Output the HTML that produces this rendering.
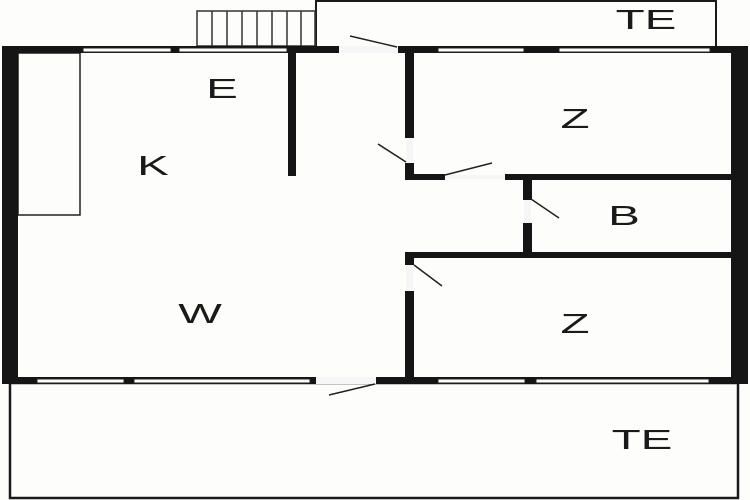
<!DOCTYPE html>
<html><head><style>
html,body{margin:0;padding:0;background:#fff;width:750px;height:500px;overflow:hidden}
text{font-family:"Liberation Sans",sans-serif;font-size:28px;fill:#1a1a1a;text-anchor:middle}
</style></head><body>
<svg width="750" height="500" viewBox="0 0 750 500" xmlns="http://www.w3.org/2000/svg">
<rect width="750" height="500" fill="#fdfdfc"/>
<rect x="316" y="1" width="400" height="46" fill="#fdfdfc" stroke="#1a1a1a" stroke-width="2"/>
<g stroke="#333" stroke-width="1.5" fill="none">
<rect x="197" y="11" width="118" height="35"/>
<line x1="212" y1="11" x2="212" y2="46"/><line x1="227" y1="11" x2="227" y2="46"/><line x1="242" y1="11" x2="242" y2="46"/><line x1="257" y1="11" x2="257" y2="46"/><line x1="272" y1="11" x2="272" y2="46"/><line x1="287" y1="11" x2="287" y2="46"/><line x1="301" y1="11" x2="301" y2="46"/>
</g>
<rect x="10" y="383" width="728" height="115" fill="#fdfdfc" stroke="#1a1a1a" stroke-width="2.5"/>
<rect x="18" y="53" width="714" height="325" fill="#fdfdfc"/>
<rect x="18" y="53" width="62" height="162" fill="none" stroke="#222" stroke-width="1.5"/>
<g fill="#151515">
<rect x="2" y="46" width="16" height="338"/>
<rect x="731" y="46" width="17" height="338"/>
<rect x="2" y="46" width="746" height="7"/>
<rect x="2" y="377" width="746" height="7"/>
<rect x="288" y="46" width="8" height="130"/>
<rect x="405" y="46" width="9" height="92"/>
<rect x="405" y="163" width="9" height="17"/>
<rect x="405" y="174" width="40" height="6"/>
<rect x="505" y="174" width="227" height="6"/>
<rect x="523" y="178" width="9" height="22"/>
<rect x="523" y="223" width="9" height="33"/>
<rect x="405" y="252" width="327" height="6"/>
<rect x="405" y="252" width="9" height="13"/>
<rect x="405" y="291" width="9" height="88"/>
</g>
<g fill="#fdfdfc" stroke="#222" stroke-width="1">
<rect x="83" y="48" width="88" height="4"/>
<rect x="179" y="48" width="108" height="4"/>
<rect x="438" y="48" width="86" height="4"/>
<rect x="559" y="48" width="151" height="4"/>
<rect x="37" y="379" width="87" height="4"/>
<rect x="134" y="379" width="176" height="4"/>
<rect x="438" y="379" width="87" height="4"/>
<rect x="536" y="379" width="173" height="4"/>
</g>
<g fill="#f6f6f6">
<rect x="339" y="46" width="59" height="7"/>
<rect x="316" y="377" width="60" height="7"/>
<rect x="406" y="138" width="7" height="25"/>
<rect x="445" y="175" width="60" height="4"/>
<rect x="524" y="200" width="7" height="23"/>
<rect x="406" y="265" width="7" height="26"/>
</g>
<g stroke="#222" stroke-width="1.5">
<line x1="350" y1="36" x2="397" y2="47"/>
<line x1="378" y1="144" x2="406" y2="162"/>
<line x1="445" y1="175" x2="492" y2="163"/>
<line x1="531" y1="199" x2="559" y2="218"/>
<line x1="414" y1="265" x2="442" y2="286"/>
<line x1="329" y1="395" x2="375" y2="384"/>
</g>
<text transform="translate(222,98) scale(1.7,1)">E</text>
<text transform="translate(153,175) scale(1.7,1)">K</text>
<text transform="translate(200,323) scale(1.65,1)">W</text>
<text transform="translate(575,128) scale(1.7,1)">Z</text>
<text transform="translate(624,225) scale(1.7,1)">B</text>
<text transform="translate(575,333) scale(1.7,1)">Z</text>
<text transform="translate(646,29) scale(1.7,1)">TE</text>
<text transform="translate(642,449) scale(1.7,1)">TE</text>
</svg>
</body></html>
